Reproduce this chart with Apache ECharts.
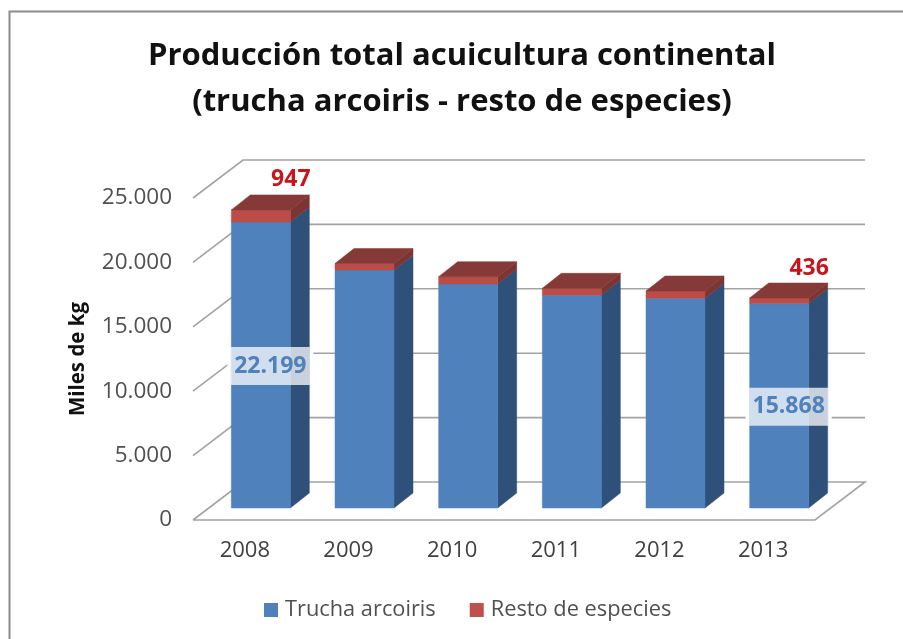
<!DOCTYPE html>
<html><head><meta charset="utf-8">
<style>html,body{margin:0;padding:0;background:#fff}#c{width:903px;height:639px}</style>
<script src="https://cdn.jsdelivr.net/npm/echarts@6/dist/echarts.min.js"></script>
</head><body><div id="c"></div>
<script>
const years = ['2008','2009','2010','2011','2012','2013'];
const trucha = [22199,18478,17391,16514,16281,15868];
const resto = [947,505,567,543,567,436];
const labelledTrucha = ['2008','2013'];
const labelledResto = ['2008','2013'];
const ticks = [0,5000,10000,15000,20000,25000];

const FONT = '"Open Sans"';
const wallDX = 50, wallDY = -38, barDX = 16, barDY = -12, depthDX = 19, depthDY = -15, barW = 59;
const fmt = v => String(v).replace(/\B(?=(\d{3})+$)/g, '.');
const chart = echarts.init(document.getElementById('c'), null, {renderer:'canvas'});

function pts(a){return {points:a};}
function gridItem(params, api){
  const cs = params.coordSys, y = api.coord([0, api.value(0)])[1];
  const l = cs.x, r = cs.x + cs.width;
  const st = {fill:'none', stroke:'#a3a3a3', lineWidth:1.6};
  const line = api.value(0) === 0
    ? [[l,y],[l+wallDX,y+wallDY],[r+wallDX,y+wallDY],[r,y],[l,y]]
    : [[l,y],[l+wallDX,y+wallDY],[r+wallDX,y+wallDY]];
  return {type:'polyline', shape:pts(line), style:st};
}
function box(api, idx, lo, hi){
  const cx = api.coord([idx, 0])[0] + barDX;
  const y0 = api.coord([idx, lo])[1] + barDY, y1 = api.coord([idx, hi])[1] + barDY;
  return {x0:cx - barW/2, x1:cx + barW/2, y0, y1};
}
function face(p, fill){return {type:'polygon', shape:pts(p), style:{fill, stroke:fill, lineWidth:0.5}};}
function barItem(front, side, top, stacked){
  return function(params, api){
    const idx = api.value(0), lo = stacked ? trucha[idx] : 0, hi = lo + api.value(1);
    const b = box(api, idx, lo, hi), d = [depthDX, depthDY];
    const ch = [
      face([[b.x1,b.y0],[b.x1+d[0],b.y0+d[1]],[b.x1+d[0],b.y1+d[1]],[b.x1,b.y1]], side),
      face([[b.x0,b.y0],[b.x1,b.y0],[b.x1,b.y1],[b.x0,b.y1]], front)
    ];
    if (top) ch.push(face([[b.x0,b.y1],[b.x1,b.y1],[b.x1+d[0],b.y1+d[1]],[b.x0+d[0],b.y1+d[1]]], top));
    return {type:'group', children:ch};
  };
}
function truchaBox(api, idx){
  const cx = api.coord([idx,0])[0] + barDX + depthDX/2;
  const cy = api.coord([idx, trucha[idx]/2])[1] + barDY + 1;
  return {cx, cy};
}
function maskItem(params, api){
  const idx = api.value(0);
  if (!labelledTrucha.includes(years[idx])) return null;
  const c = truchaBox(api, idx);
  return {type:'rect', shape:{x:c.cx-43, y:c.cy-19, width:86, height:38}, style:{fill:'#fff'}};
}
function truchaLabel(params, api){
  const idx = api.value(0);
  if (!labelledTrucha.includes(years[idx])) return null;
  const c = truchaBox(api, idx);
  return {type:'group', children:[
    {type:'rect', shape:{x:c.cx-39.5, y:c.cy-19, width:79, height:38}, style:{fill:'rgba(255,255,255,0.74)'}},
    {type:'text', style:{text:fmt(trucha[idx]), x:c.cx, y:c.cy, align:'center', verticalAlign:'middle',
      fill:'#4f81bd', font:'bold 23px '+FONT}}
  ]};
}
function restoLabel(params, api){
  const idx = api.value(0);
  if (!labelledResto.includes(years[idx])) return null;
  const b = box(api, idx, trucha[idx], trucha[idx]+resto[idx]);
  return {type:'text', style:{text:fmt(resto[idx]), x:b.x1+0.5, y:b.y1-30, align:'center', verticalAlign:'middle',
    fill:'#c8151b', font:'bold 23px '+FONT}};
}
const barData = years.map((y,i)=>[i]);
const custom = (o)=>Object.assign({type:'custom', silent:true, clip:false, animation:false, coordinateSystem:'cartesian2d', encode:{x:0,y:1}}, o);
chart.setOption({
  animation:false,
  backgroundColor:'#fff',
  title:{text:'Producción total acuicultura continental\n(trucha arcoiris - resto de especies)',
    left:457, top:28, textAlign:'center',
    textStyle:{fontFamily:FONT, fontWeight:'bold', fontSize:31, lineHeight:46, color:'#111'}},
  legend:{left:259, top:594, padding:[5,0,5,5], itemWidth:14, itemHeight:14, itemGap:34, icon:'rect',
    data:[{name:'Trucha arcoiris',itemStyle:{color:'#4f81bd'}},{name:'Resto de especies',itemStyle:{color:'#c0504d'}}],
    textStyle:{fontFamily:FONT, fontSize:21.8, color:'#505050', padding:[0,0,0,2]}},
  grid:{left:193, top:198, width:622, height:322, containLabel:false},
  xAxis:{type:'category', data:years, axisLine:{show:false}, axisTick:{show:false},
    axisLabel:{fontFamily:FONT, fontSize:22, color:'#404040', margin:20}},
  yAxis:{type:'value', min:0, max:25000, interval:5000, splitLine:{show:false}, axisLine:{show:false}, axisTick:{show:false},
    name:'Miles de kg', nameLocation:'middle', nameRotate:90, nameGap:104,
    nameTextStyle:{fontFamily:FONT, fontWeight:'bold', fontSize:20.5, color:'#111'},
    axisLabel:{fontFamily:FONT, fontSize:22.5, color:'#505050', margin:21, formatter:v=>fmt(v)}},
  graphic:[
    {type:'polyline', silent:true, z:-1, shape:{points:[[9.5,640],[9.5,11.5],[903,11.5]]}, style:{fill:'none', stroke:'#8c8c8c', lineWidth:2}}
  ],
  series:[
    custom({name:'grid', data:ticks.map(t=>[t]), encode:{y:0}, z:1, renderItem:gridItem}),
    custom({name:'mask', data:barData, z:2, renderItem:maskItem}),
    custom({name:'Trucha arcoiris', data:years.map((y,i)=>[i,trucha[i]]), z:3, color:'#4f81bd',
      renderItem:barItem('#4f81bd','#2e5079',null,false)}),
    custom({name:'Resto de especies', data:years.map((y,i)=>[i,resto[i]]), z:4, color:'#c0504d',
      renderItem:barItem('#bb4c48','#7c3533','#853a37',true)}),
    custom({name:'lab1', data:barData, z:5, renderItem:truchaLabel}),
    custom({name:'lab2', data:barData, z:5, renderItem:restoLabel})
  ]
});
</script></body></html>
